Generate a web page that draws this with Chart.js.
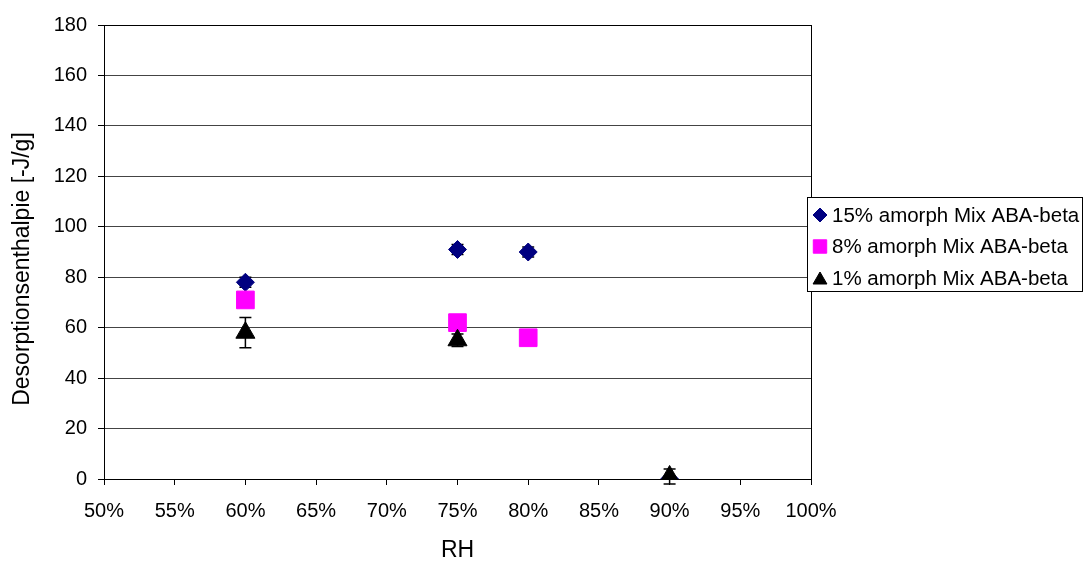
<!DOCTYPE html>
<html>
<head>
<meta charset="utf-8">
<script src="https://cdn.jsdelivr.net/npm/chart.js@4"></script>
<style>
  html, body { margin: 0; padding: 0; background: #fff; }
  #wrap { position: relative; width: 1084px; height: 563px; }
</style>
</head>
<body>
<div id="wrap"><canvas id="chart" width="1084" height="563"></canvas></div>
<script>
// data
const rhValues = [60, 75, 80, 90];
const amorph15 = [78, 91, 90, 0];
const amorph15Err = [2, 2, 2, 0];
const amorph8 = [71, 62, 56, null];
const amorph8Err = [0, 0, 0, 0];
const amorph1 = [58, 55, null, 1];
const amorph1Err = [6, 2.5, 0, 3];
const seriesLabels = ['15% amorph Mix ABA-beta', '8% amorph Mix ABA-beta', '1% amorph Mix ABA-beta'];
const seriesColors = ['#000080', '#FF00FF', '#000000'];
const seriesShapes = ['rectRot', 'rect', 'triangle'];
const seriesRadius = [9, 12.5, 11];
const yTitle = 'Desorptionsenthalpie [-J/g]';

const FONT = "'Liberation Sans', Arial, sans-serif";

function toPoints(ys) {
    return rhValues.map(function(x, i) { return { x: x, y: ys[i] }; });
}

const allErrors = [amorph15Err, amorph8Err, amorph1Err];

// vertical error bars, drawn under the markers
const errorBars = {
    id: 'errorBars',
    beforeDatasetsDraw(chart) {
        const ctx = chart.ctx;
        const y = chart.scales.y;
        ctx.save();
        ctx.strokeStyle = '#000';
        ctx.lineWidth = 1.5;
        chart.data.datasets.forEach(function(ds, di) {
            const meta = chart.getDatasetMeta(di);
            meta.data.forEach(function(pt, i) {
                const v = ds.data[i].y;
                const e = allErrors[di][i];
                if (v === null || !e) return;
                const top = y.getPixelForValue(v + e);
                const bot = y.getPixelForValue(v - e);
                ctx.beginPath();
                ctx.moveTo(pt.x, top); ctx.lineTo(pt.x, bot);
                ctx.moveTo(pt.x - 6, top); ctx.lineTo(pt.x + 6, top);
                ctx.moveTo(pt.x - 6, bot); ctx.lineTo(pt.x + 6, bot);
                ctx.stroke();
            });
        });
        ctx.restore();
    }
};

// frame round the plot area + y title (sits a bit below the plot centre in the original)
const plotFrame = {
    id: 'plotFrame',
    beforeDatasetsDraw(chart) {
        const a = chart.chartArea;
        const ctx = chart.ctx;
        ctx.save();
        ctx.strokeStyle = '#000';
        ctx.lineWidth = 1;
        ctx.strokeRect(Math.round(a.left) + 0.5, Math.round(a.top) + 0.5, Math.round(a.right - a.left), Math.round(a.bottom - a.top));
        ctx.translate(23, 269);
        ctx.rotate(-Math.PI / 2);
        ctx.font = '23px ' + FONT;
        ctx.fillStyle = '#000';
        ctx.textAlign = 'center';
        ctx.textBaseline = 'middle';
        ctx.fillText(yTitle, 0, 0);
        ctx.restore();
    }
};

// legend box on the right, overlapping the plot edge like the original
const boxLegend = {
    id: 'boxLegend',
    afterDraw(chart) {
        const ctx = chart.ctx;
        const bx = 807, by = 197, bw = 276, bh = 95;
        ctx.save();
        ctx.fillStyle = '#fff';
        ctx.fillRect(bx, by, bw, bh);
        ctx.strokeStyle = '#000';
        ctx.lineWidth = 1;
        ctx.strokeRect(bx + 0.5, by + 0.5, bw - 1, bh - 1);
        ctx.font = '20.5px ' + FONT;
        ctx.textBaseline = 'middle';
        ctx.textAlign = 'left';
        seriesLabels.forEach(function(lbl, i) {
            const cy = by + 18 + i * 31.5;
            ctx.fillStyle = seriesColors[i];
            ctx.strokeStyle = seriesColors[i];
            Chart.helpers.drawPoint(ctx, {
                pointStyle: seriesShapes[i],
                radius: [7, 9.5, 8][i],
                borderWidth: 1,
                rotation: 0
            }, 820, cy + (i === 2 ? 2 : 0));
            ctx.fillStyle = '#000';
            ctx.fillText(lbl, 832, cy + 1);
        });
        ctx.restore();
    }
};

const datasets = [amorph15, amorph8, amorph1].map(function(ys, i) {
    return {
        label: seriesLabels[i],
        data: toPoints(ys),
        order: 3 - i,   // later series on top, as in the original
        pointStyle: seriesShapes[i],
        pointRadius: seriesRadius[i],
        pointHoverRadius: seriesRadius[i],
        backgroundColor: seriesColors[i],
        borderColor: seriesColors[i],
        pointBorderWidth: 1,
        showLine: false
    };
});

const ctx = document.getElementById('chart').getContext('2d');
new Chart(ctx, {
    type: 'scatter',
    data: { datasets: datasets },
    plugins: [plotFrame, errorBars, boxLegend],
    options: {
        responsive: false,
        animation: false,
        layout: { padding: { left: 0, right: 273, top: 25, bottom: 0 } },
        plugins: {
            legend: { display: false },
            tooltip: { enabled: false }
        },
        scales: {
            x: {
                type: 'linear',
                min: 50,
                max: 100,
                afterFit: function(s) { s.height = 84; },
                ticks: {
                    stepSize: 5,
                    padding: 14,
                    color: '#000',
                    font: { family: FONT, size: 20 },
                    callback: function(v) { return v + '%'; }
                },
                grid: { drawOnChartArea: false, tickLength: 6, color: '#000' },
                border: { color: '#000', width: 1 },
                title: {
                    display: true,
                    text: 'RH',
                    color: '#000',
                    font: { family: FONT, size: 23 },
                    padding: { top: 0, bottom: -1 }
                }
            },
            y: {
                min: 0,
                max: 180,
                afterFit: function(s) { s.width = 104; },
                ticks: {
                    stepSize: 20,
                    padding: 11,
                    color: '#000',
                    font: { family: FONT, size: 20 }
                },
                grid: { color: '#444', tickColor: '#000', tickLength: 6 },
                border: { color: '#000', width: 1 }
            }
        }
    }
});
</script>
</body>
</html>
